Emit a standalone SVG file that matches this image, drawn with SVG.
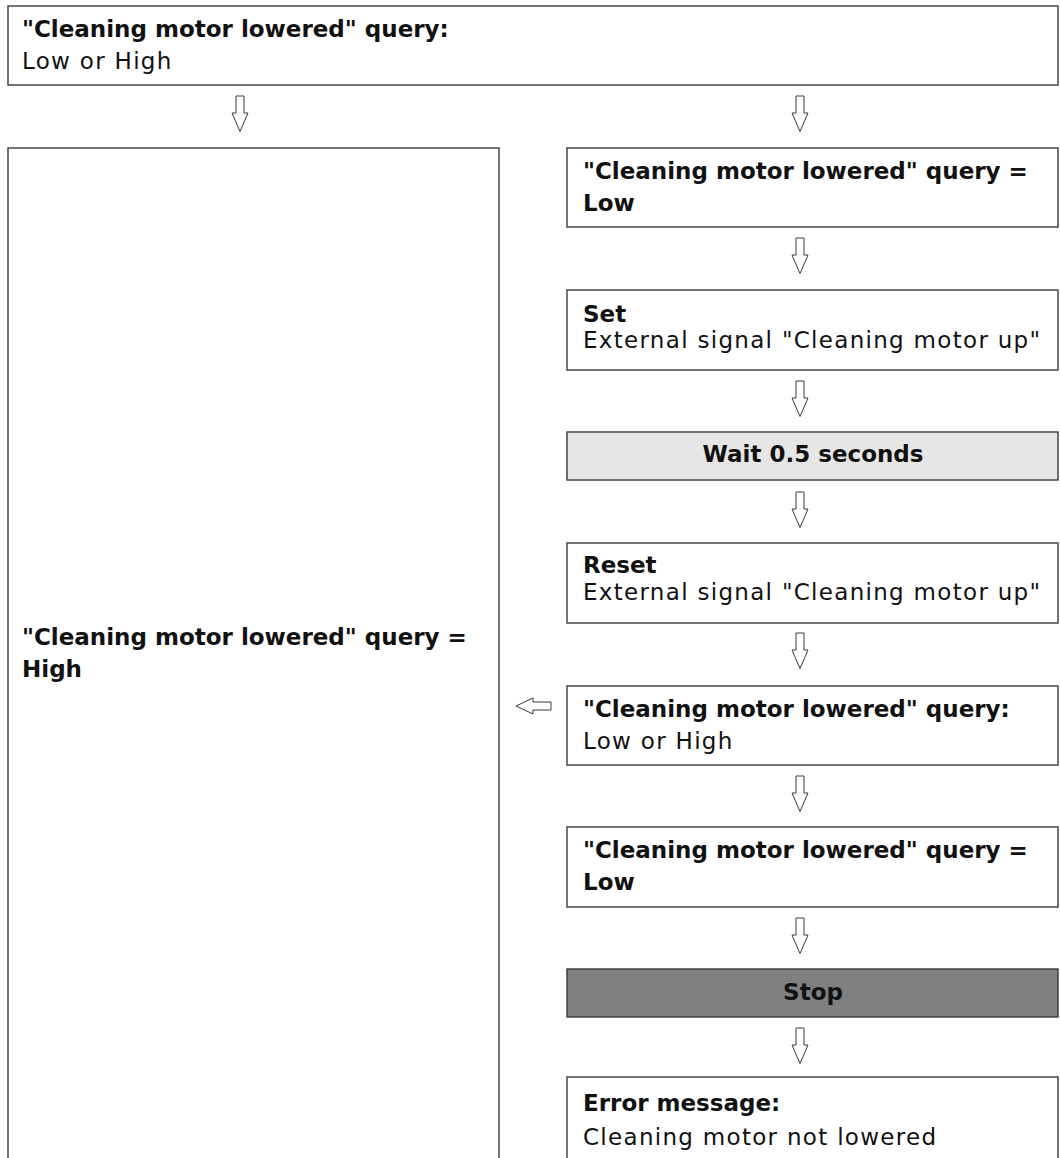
<svg xmlns="http://www.w3.org/2000/svg" width="1060" height="1158" viewBox="0 0 1060 1158">
<style>
.box{fill:#fff;stroke:#3a3a3a;stroke-width:1.4}
.wait{fill:#e6e6e6;stroke:#3a3a3a;stroke-width:1.4}
.stop{fill:#808080;stroke:#3a3a3a;stroke-width:1.4}
.arr{fill:#fff;stroke:#3a3a3a;stroke-width:1;stroke-linejoin:miter}
text{font-family:"DejaVu Sans",sans-serif;font-size:23px;fill:#111}
.b{font-weight:bold}
.r{letter-spacing:1.3px}
.c{text-anchor:middle}
</style>
<defs>
<path id="down" d="M-4,0 H4 V17 H8 L0,35.5 L-8,17 H-4 Z"/>
</defs>
<g id="connectors">
<use href="#down" class="arr" x="240" y="96"/>
<use href="#down" class="arr" x="800" y="96"/>
<use href="#down" class="arr" x="800" y="238"/>
<use href="#down" class="arr" x="800" y="381"/>
<use href="#down" class="arr" x="800" y="492"/>
<use href="#down" class="arr" x="800" y="633"/>
<use href="#down" class="arr" x="800" y="776"/>
<use href="#down" class="arr" x="800" y="918"/>
<use href="#down" class="arr" x="800" y="1028"/>
<path class="arr" d="M551,702 V710 H533 V714 L516,706 L533,698 V702 Z"/>
</g>
<g id="n-top">
<rect class="box" x="8" y="6" width="1050" height="79"/>
<text class="b" x="22" y="37">"Cleaning motor lowered" query:</text>
<text class="r" x="22" y="69">Low or High</text>
</g>
<g id="n-high">
<rect class="box" x="8" y="148" width="491" height="1020"/>
<text class="b" x="22" y="645">"Cleaning motor lowered" query =</text>
<text class="b" x="22" y="677">High</text>
</g>
<g id="n-low1">
<rect class="box" x="567" y="148" width="491" height="79"/>
<text class="b" x="583" y="179">"Cleaning motor lowered" query =</text>
<text class="b" x="583" y="211">Low</text>
</g>
<g id="n-set">
<rect class="box" x="567" y="290" width="491" height="80"/>
<text class="b" x="583" y="322">Set</text>
<text class="r" x="583" y="348">External signal "Cleaning motor up"</text>
</g>
<g id="n-wait">
<rect class="wait" x="567" y="432" width="491" height="48"/>
<text class="b c" x="813" y="462">Wait 0.5 seconds</text>
</g>
<g id="n-reset">
<rect class="box" x="567" y="543" width="491" height="80"/>
<text class="b" x="583" y="573">Reset</text>
<text class="r" x="583" y="600">External signal "Cleaning motor up"</text>
</g>
<g id="n-query">
<rect class="box" x="567" y="686" width="491" height="79"/>
<text class="b" x="583" y="717">"Cleaning motor lowered" query:</text>
<text class="r" x="583" y="749">Low or High</text>
</g>
<g id="n-low2">
<rect class="box" x="567" y="827" width="491" height="80"/>
<text class="b" x="583" y="858">"Cleaning motor lowered" query =</text>
<text class="b" x="583" y="890">Low</text>
</g>
<g id="n-stop">
<rect class="stop" x="567" y="969" width="491" height="48"/>
<text class="b c" x="813" y="1000">Stop</text>
</g>
<g id="n-error">
<rect class="box" x="567" y="1077" width="491" height="100"/>
<text class="b" x="583" y="1111">Error message:</text>
<text class="r" x="583" y="1145">Cleaning motor not lowered</text>
</g>
</svg>
